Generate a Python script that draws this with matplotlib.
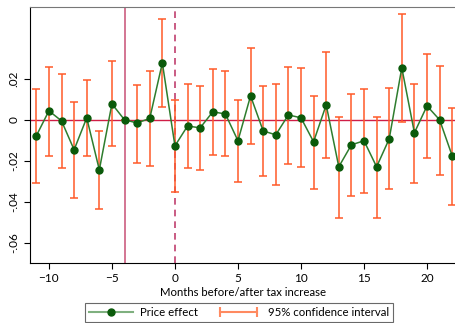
import matplotlib
matplotlib.use("Agg")
import matplotlib.pyplot as plt
from matplotlib.lines import Line2D
from matplotlib.legend_handler import HandlerLine2D
from matplotlib.ticker import FuncFormatter

months = list(range(-11, 23))
effect = [-0.0078, 0.0044, -0.0005, -0.0146, 0.0010, -0.0244, 0.0078, 0.0000,
          -0.0015, 0.0007, 0.0278, -0.0127, -0.0030, -0.0039, 0.0039, 0.0029,
          -0.0102, 0.0117, -0.0054, -0.0073, 0.0024, 0.0010, -0.0107, 0.0073,
          -0.0229, -0.0122, -0.0102, -0.0229, -0.0093, 0.0254, -0.0063, 0.0068,
          0.0000, -0.0176]
ci_low = [-0.0307, -0.0176, -0.0234, -0.0380, -0.0176, -0.0434, -0.0127, 0.0000,
          -0.0210, -0.0224, 0.0063, -0.0350, -0.0234, -0.0244, -0.0171, -0.0176,
          -0.0302, -0.0117, -0.0273, -0.0317, -0.0215, -0.0229, -0.0337, -0.0185,
          -0.0478, -0.0371, -0.0356, -0.0478, -0.0337, -0.0010, -0.0307, -0.0185,
          -0.0268, -0.0415]
ci_high = [0.0151, 0.0259, 0.0224, 0.0088, 0.0195, -0.0054, 0.0288, 0.0000,
           0.0171, 0.0239, 0.0493, 0.0098, 0.0176, 0.0166, 0.0249, 0.0239,
           0.0098, 0.0351, 0.0166, 0.0176, 0.0259, 0.0254, 0.0117, 0.0332,
           0.0015, 0.0127, 0.0151, 0.0015, 0.0156, 0.0517, 0.0176, 0.0322,
           0.0263, 0.0059]
y_ticks = [-0.06, -0.04, -0.02, 0, 0.02]

plt.rcParams["font.family"] = ["Lato", "DejaVu Sans"]

fig = plt.figure(figsize=(4.56, 3.23), dpi=100)
ax = fig.add_axes([0.0658, 0.186, 0.9342, 0.7926])

err = [[e - lo for e, lo in zip(effect, ci_low)],
       [hi - e for e, hi in zip(effect, ci_high)]]

ax.axhline(0, color="#d01e46", lw=1.0, zorder=1)
ax.axvline(-4, color="#d06a8a", lw=1.3, zorder=1)
ax.axvline(0, color="#c0406e", lw=1.2, ls=(0, (4, 3)), zorder=1)

ax.errorbar(months, effect, yerr=err, fmt="none", ecolor="#ff5a28",
            elinewidth=1.1, capsize=3, capthick=1.1, zorder=2)
ln, = ax.plot(months, effect, color="#2e7d2e", lw=1.1, marker="o", ms=5,
              mfc="#0a5a0a", mec="#0a5a0a", zorder=3, label="Price effect")

ax.set_xlim(-11.5, 22.3)
ax.set_ylim(-0.0698, 0.0551)
ax.set_xticks([-10, -5, 0, 5, 10, 15, 20])
ax.set_yticks(y_ticks)


def fmt(v, pos):
    if abs(v) < 1e-9:
        return "0"
    s = f"{v:.2f}"
    return s.replace("0.", ".")


ax.yaxis.set_major_formatter(FuncFormatter(fmt))
ax.tick_params(axis="y", labelrotation=90, labelsize=8.5, length=4)
for lab in ax.get_yticklabels():
    lab.set_va("center")
ax.tick_params(axis="x", labelsize=8.5, length=4)
ax.set_xlabel("Months before/after tax increase", fontsize=8.2, labelpad=2)

ax.spines["top"].set_color("#777777")
ax.spines["right"].set_visible(False)

# legend handles: green line with dot, horizontal errorbar with caps
h_eff = Line2D([0], [0], color="#7fb07f", lw=1.5, marker="o", ms=5,
               mfc="#0a5a0a", mec="#0a5a0a")
h_ci = Line2D([0], [0], color="#ff8a60", lw=1.5, marker="|", ms=7, mew=1.5)
leg = fig.legend(handles=[h_eff, h_ci],
                 labels=["Price effect", "95% confidence interval"],
                 loc="upper left", bbox_to_anchor=(85 / 456, 1 - 303 / 323),
                 borderaxespad=0,
                 ncol=2, fontsize=8.2, frameon=True, fancybox=False,
                 edgecolor="#444444", handlelength=3.9, columnspacing=1.6,
                 borderpad=0.35, handletextpad=0.6,
                 handler_map={h_eff: HandlerLine2D(numpoints=1),
                              h_ci: HandlerLine2D(numpoints=2)})
leg.get_frame().set_linewidth(0.8)

fig.savefig("out.png", dpi=100)
